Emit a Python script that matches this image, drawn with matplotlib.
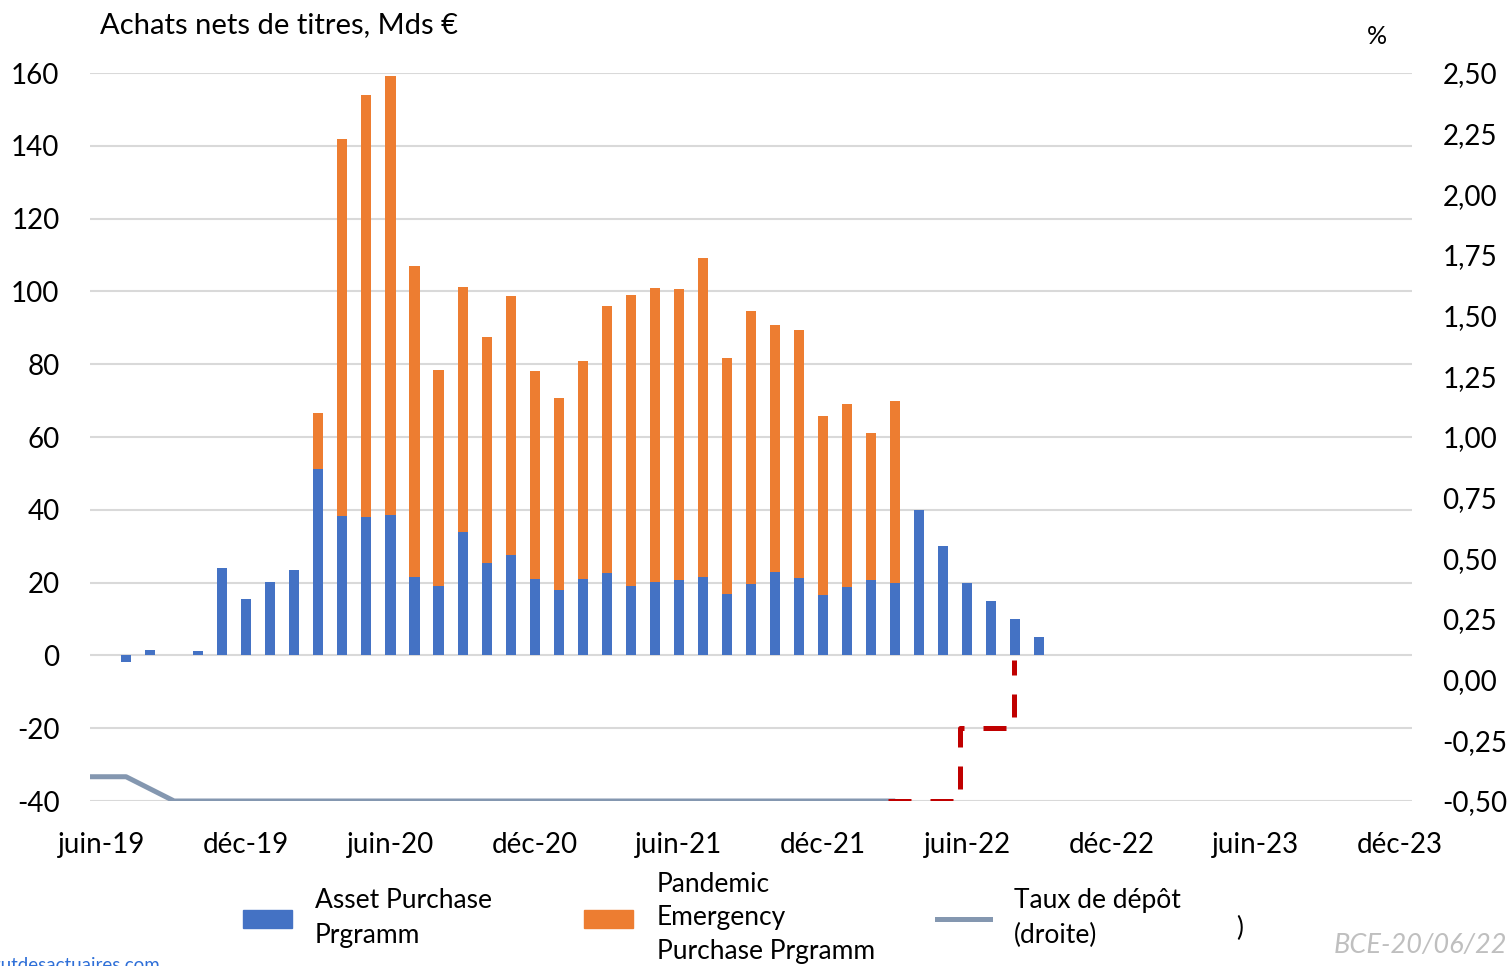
import numpy as np
import matplotlib.pyplot as plt
from matplotlib.patches import Patch
from matplotlib.lines import Line2D

plt.rcParams["font.family"] = ["Lato", "DejaVu Sans"]

# months counted from juin-19 (=0) up to déc-23 (=54)
tick_labels = ["juin-19", "déc-19", "juin-20", "déc-20", "juin-21",
               "déc-21", "juin-22", "déc-22", "juin-23", "déc-23"]

# net purchases, Mds € (juin-19 .. sept-22)
app = [0, -1.7, 1.6, 0, 1.3, 24.0, 15.4, 20.3, 23.4, 51.2,
       38.4, 38.1, 38.7, 21.5, 19.1, 34.0, 25.5, 27.7, 21.0, 17.9,
       21.0, 22.6, 19.0, 20.1, 20.6, 21.5, 16.8, 19.6, 22.9, 21.2,
       16.6, 18.8, 20.7, 20.0, 40.0, 30.0, 20.0, 15.0, 10.0, 5.0]
pepp = [0, 0, 0, 0, 0, 0, 0, 0, 0, 15.3,
        103.4, 115.9, 120.4, 85.5, 59.4, 67.3, 61.9, 70.9, 57.0, 52.9,
        59.8, 73.5, 79.9, 80.7, 80.1, 87.6, 65.0, 75.1, 67.9, 68.1,
        49.3, 50.2, 40.3, 50.0]

# deposit rate, % (mai-19 .. mars-22)
depo_start = -1
depo = [-0.4, -0.4, -0.4, -0.45] + [-0.5] * 31

# expected path drawn in red
fwd_x = [32.7, 35.7, 37.95]
fwd_rate = [-0.5, -0.2, 0.08]

W, H = 1511, 966
fig = plt.figure(figsize=(W / 100, H / 100), dpi=100)
ax = fig.add_axes([90 / W, 1 - 801 / H, 1322 / W, 728 / H])
ax2 = ax.twinx()

app_a = np.array(app, dtype=float)
pepp_a = np.array(pepp, dtype=float)
x_app = np.arange(len(app_a))
x_pepp = np.arange(len(pepp_a))
bw = 0.42
# skip empty months so no sliver is drawn
m1 = app_a != 0
m2 = pepp_a != 0
ax.bar(x_app[m1], app_a[m1], width=bw, color="#4472C4", zorder=2)
ax.bar(x_pepp[m2], pepp_a[m2], width=bw, bottom=app_a[:len(pepp_a)][m2],
       color="#ED7D31", zorder=2)

x_depo = np.arange(depo_start, depo_start + len(depo))
ax2.plot(x_depo, depo, color="#8497B0", lw=3.6, solid_capstyle="butt", zorder=3)
ax2.plot(fwd_x, fwd_rate, color="#C00000", lw=3.6, drawstyle="steps-post",
         linestyle=(0, (4.6, 3.8)), zorder=3)

ax.set_xlim(-0.5, 54.5)
ax.set_ylim(-40, 160)
ax2.set_ylim(-0.5, 2.5)

ax.set_xticks(np.arange(0, 55, 6))
ax.set_xticklabels(tick_labels)
lt = np.arange(-40, 161, 20)
ax.set_yticks(lt)
ax.set_yticklabels([str(v) for v in lt])
rt = np.arange(-0.5, 2.51, 0.25)
ax2.set_yticks(rt)
ax2.set_yticklabels([("%.2f" % v).replace(".", ",") for v in rt])

ax.grid(axis="y", color="#D9D9D9", lw=1.5, zorder=0)
ax.set_axisbelow(True)
for a in (ax, ax2):
    for s in a.spines.values():
        s.set_visible(False)
ax.tick_params(axis="x", length=0, pad=22, labelsize=20)
ax.tick_params(axis="y", length=0, pad=22, labelsize=20)
ax2.tick_params(axis="y", length=0, pad=22, labelsize=20)

fig.text(100 / W, 1 - 25 / H, "Achats nets de titres, Mds €", fontsize=21, va="center")
fig.text(1377 / W, 1 - 36 / H, "%", fontsize=18, ha="center", va="center")

# legend entries
entries = [
    (Patch(color="#4472C4"), "Asset Purchase\nPrgramm", 243, 1.87, 0.86),
    (Patch(color="#ED7D31"), "Pandemic\nEmergency\nPurchase Prgramm", 584, 1.87, 0.9),
    (Line2D([], [], color="#8497B0", lw=3.6), "Taux de dépôt\n(droite)", 937, 2.0, 0.92),
]
for h, lab, xpx, hl, tp in entries:
    leg = fig.legend([h], [lab], loc="center left", bbox_to_anchor=(xpx / W, 1 - 918 / H),
                     frameon=False, fontsize=19, borderpad=0, borderaxespad=0,
                     handlelength=hl, handletextpad=tp, handleheight=0.65)
    for t in leg.get_texts():
        t.set_linespacing(1.45)

fig.text(1240 / W, 1 - 928 / H, ")", fontsize=19, ha="center", va="center")
fig.text(1507 / W, 1 - 946 / H, "BCE-20/06/22", fontsize=19.5, style="italic",
         color="#BFBFBF", ha="right", va="center")
fig.text(160 / W, 1 - 971 / H, "www.institutdesactuaires.com", fontsize=13.5,
         color="#2E6FD8", ha="right", va="baseline")

fig.savefig("out.png", dpi=100)
